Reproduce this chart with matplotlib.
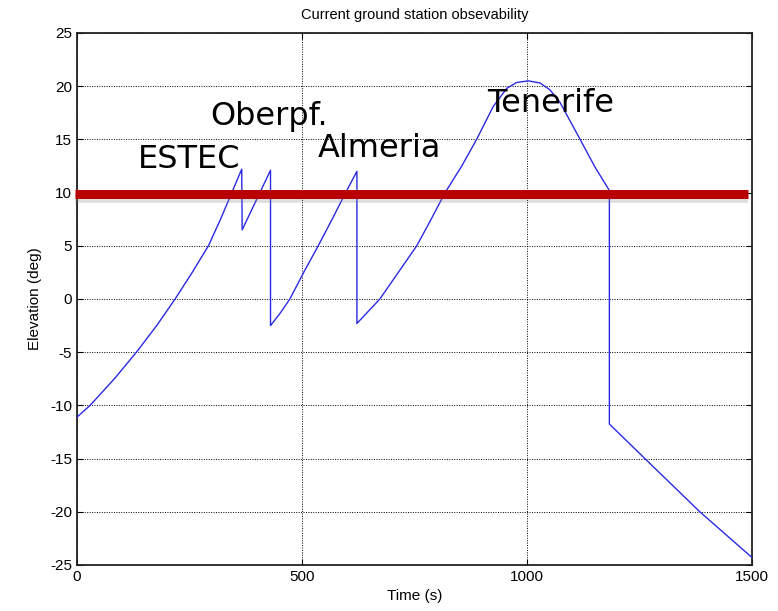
import matplotlib
matplotlib.use('Agg')
import matplotlib.pyplot as plt

plt.rcParams['axes.unicode_minus'] = False

# Elevation trace (time in s, elevation in deg)
time_s = [0, 29, 83, 132, 177, 218, 256, 292, 319, 344, 366,
          367, 430,
          430, 452, 473, 505, 536, 567, 597, 622,
          622, 673, 714, 755, 787, 818, 855, 888, 925, 955, 977, 1003,
          1029, 1051, 1073, 1118, 1151, 1183,
          1183, 1262, 1384, 1500]
elev_deg = [-11.1, -10, -7.5, -5, -2.5, 0, 2.5, 5, 7.5, 10, 12.2,
            6.5, 12.1,
            -2.5, -1.3, 0, 2.6, 5, 7.5, 10, 12.0,
            -2.3, 0, 2.5, 5, 7.5, 10, 12.5, 15, 18.1, 19.8, 20.35, 20.5,
            20.3, 19.65, 18.5, 15, 12.4, 10.2,
            -11.75, -15, -20, -24.3]

# Station labels and where they sit
stations = ['ESTEC', 'Oberpf.', 'Almeria', 'Tenerife']
label_t = [136, 297, 536, 912]
label_el = [12.3, 16.35, 13.3, 17.55]

threshold = 9.85  # elevation mask drawn in red

fig = plt.figure(figsize=(7.78, 6.11), dpi=100)
ax = fig.add_axes([0.099, 0.0753, 0.8676, 0.8707])

ax.plot(time_s, elev_deg, color='#2a2ae6', linewidth=1.0, zorder=3)

# red threshold bar with a faint shadow, like the slide overlay
ax.plot([-5, 1490], [threshold - 0.35, threshold - 0.35], color='grey', alpha=0.25,
        linewidth=7, solid_capstyle='butt', clip_on=False, zorder=4)
ax.plot([-5, 1490], [threshold, threshold], color='#b80000', linewidth=6.5,
        solid_capstyle='butt', clip_on=False, zorder=5)

for name, t, el in zip(stations, label_t, label_el):
    ax.text(t, el, name, fontsize=23, family='DejaVu Sans', va='baseline',
            ha='left', color='black', zorder=6)

ax.set_xlim(0, 1500)
ax.set_ylim(-25, 25)
ax.set_xticks([0, 500, 1000, 1500])
ax.set_yticks(range(-25, 26, 5))
ax.grid(True, color='black', linestyle=(0, (1, 1.5)), linewidth=0.7)
ax.tick_params(direction='in', top=True, right=True, length=4, labelsize=11)
for lbl in ax.get_xticklabels() + ax.get_yticklabels():
    lbl.set_family('Liberation Sans')
for sp in ax.spines.values():
    sp.set_linewidth(1.3)
    sp.set_color('#222222')

ax.set_xlabel('Time (s)', fontsize=11, family='Liberation Sans', labelpad=4)
ax.set_ylabel('Elevation (deg)', fontsize=11, family='Liberation Sans', labelpad=6)
ax.set_title('Current ground station obsevability', fontsize=10.5,
             family='Liberation Sans', pad=10)

fig.savefig('out.png', dpi=100)
